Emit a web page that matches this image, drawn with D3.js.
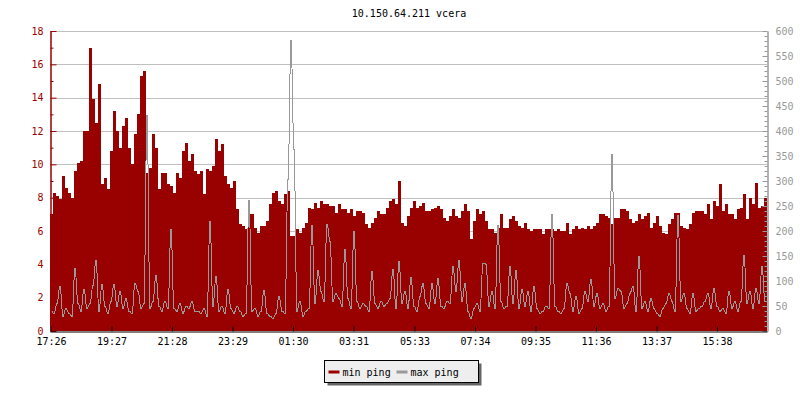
<!DOCTYPE html>
<html>
<head>
<meta charset="utf-8">
<script src="https://cdn.jsdelivr.net/npm/d3@7"></script>
<style>
  body { margin: 0; background: #fff; }
  text { font-family: "DejaVu Sans Mono", monospace; font-size: 10px; }
</style>
</head>
<body>
<svg id="chart" width="800" height="400"></svg>
<script>
// chart data
const title = "10.150.64.211 vcera";
const startTime = "17:24";   // first sample
const stepMinutes = 6;       // one sample every 6 minutes
const seriesNames = ["min ping", "max ping"];

// min ping, left axis (0-18)
const minPing = [
  7.0, 8.3, 8.1, 7.9, 9.3, 8.6, 8.3, 8.0, 9.6, 10.1, 10.2, 12.0, 12.0, 17.0, 13.9, 12.5, 14.8, 8.8, 9.2, 8.5,
  10.8, 13.2, 12.0, 11.0, 12.3, 12.8, 11.0, 10.0, 11.8, 13.0, 15.3, 15.6, 9.5, 9.8, 11.8, 11.0, 8.5, 9.5, 9.5, 8.8,
  8.7, 8.3, 9.5, 9.2, 10.8, 11.3, 10.2, 10.6, 9.6,
  9.4, 9.6, 8.2, 9.7, 9.6, 9.9, 11.5, 10.8, 11.2, 9.3, 8.8, 8.6, 9.0, 7.3, 6.4, 6.3, 6.1, 7.0, 7.0, 6.2,
  5.9, 6.3, 6.3, 6.6, 7.6, 8.3, 8.4, 7.8, 7.6, 8.2, 8.4, 5.7, 5.7, 6.1, 5.9, 6.2, 6.5, 7.4, 7.3, 7.7,
  7.4, 7.8, 7.6, 7.6, 7.5, 7.5, 7.1, 7.6,
  7.3, 7.3, 7.1, 7.3, 6.9, 7.2, 7.2, 7.1, 6.4, 6.2, 6.5, 6.8, 7.2, 7.0, 7.0, 7.4, 7.8, 7.9, 7.6, 9.0,
  6.5, 6.3, 6.9, 7.4, 7.8, 7.4, 7.5, 7.7, 7.2, 7.2, 7.3, 7.4, 7.5, 7.3, 6.8, 6.6, 6.9, 7.3, 6.9, 6.8,
  7.2, 7.6, 7.2, 5.5, 6.6, 7.3, 7.0, 7.2,
  6.6, 6.1, 6.1, 5.9, 6.2, 7.0, 6.2, 6.2, 6.7, 6.9, 6.6, 6.3, 6.2, 6.5, 6.1, 6.0, 6.1, 6.1, 6.1, 5.8,
  6.1, 6.1, 6.1, 6.0, 6.1, 6.0, 6.0, 6.5, 5.8, 6.1, 6.3, 6.1, 6.2, 6.1, 6.3, 6.1, 6.3, 6.5, 7.0, 7.0,
  6.9, 6.8, 6.4, 6.8, 6.8, 7.3, 7.3, 7.2, 6.7,
  6.5, 6.6, 7.0, 6.7, 6.9, 7.1, 6.2, 6.5, 6.9, 6.3, 5.9, 5.8, 6.4, 6.7, 7.1, 7.1, 6.3, 6.2, 6.1, 6.4,
  7.1, 7.2, 7.2, 7.2, 7.0, 7.6, 6.7, 7.8, 7.5, 8.8, 7.2, 7.6, 7.0, 7.0, 6.7, 7.3, 7.4, 8.2, 6.7, 8.0,
  7.6, 8.9, 7.4, 7.5, 8.0
];

// max ping, right axis (0-600)
const maxPing = [
  40, 35, 55, 90, 30, 45, 35, 30, 125, 55, 40, 84, 45, 55, 92, 142, 40, 94, 50, 35,
  60, 94, 50, 80, 45, 65, 40, 35, 96, 80, 45, 55, 432, 45, 60, 112, 50, 40, 60, 45,
  204, 45, 40, 55, 35, 50, 45, 60, 40,
  40, 35, 45, 30, 219, 50, 109, 40, 50, 35, 84, 45, 35, 50, 40, 30, 35, 261, 40, 45,
  30, 40, 82, 35, 30, 25, 35, 70, 40, 35, 304, 581, 363, 40, 60, 30, 40, 45, 211, 55,
  121, 80, 60, 214, 179, 60, 75, 65,
  50, 163, 65, 45, 199, 60, 45, 55, 50, 40, 119, 55, 45, 60, 50, 55, 65, 124, 45, 139,
  55, 80, 45, 107, 50, 40, 70, 95, 55, 45, 95, 55, 105, 50, 45, 60, 55, 129, 80, 141,
  60, 95, 40, 25, 45, 55, 40, 136,
  134, 50, 80, 45, 212, 60, 45, 50, 129, 55, 121, 45, 84, 50, 80, 40, 89, 45, 35, 40,
  50, 45, 233, 50, 40, 35, 45, 96, 75, 40, 70, 35, 45, 80, 60, 104, 50, 75, 45, 55,
  40, 50, 353, 65, 85, 80, 45, 55, 75,
  90, 40, 150, 45, 60, 40, 65, 45, 35, 30, 45, 55, 75, 60, 40, 231, 60, 75, 45, 35,
  75, 40, 45, 50, 60, 75, 45, 85, 50, 40, 45, 35, 80, 45, 60, 40, 60, 152, 55, 80,
  45, 85, 55, 129, 60
];

const timeTicks = ["17:26", "19:27", "21:28", "23:29", "01:30", "03:31",
                   "05:33", "07:34", "09:35", "11:36", "13:37", "15:38"];
const leftMax = 18;
const rightMax = 600;

const red = "#990000";
const gray = "#999999";

const svg = d3.select("#chart");
const plotLeft = 50, plotRight = 767, plotTop = 31, plotBottom = 331;

// times: day 1 from 17:24, anything earlier in the clock is the next day
const parseHM = d3.timeParse("%Y-%m-%d %H:%M");
function toDate(hm) {
  const day = +hm.slice(0, 2) < 17 ? "2000-01-02" : "2000-01-01";
  return parseHM(day + " " + hm);
}
const t0 = toDate(startTime);
const sampleTime = (i) => d3.timeMinute.offset(t0, i * stepMinutes);
const tEnd = sampleTime(minPing.length);

const x = d3.scaleTime().domain([t0, tEnd]).range([plotLeft, plotRight]);
const yL = d3.scaleLinear().domain([0, leftMax]).range([plotBottom, plotTop]);
const yR = d3.scaleLinear().domain([0, rightMax]).range([plotBottom, plotTop]);

// grid
svg.append("g")
  .selectAll("line")
  .data(d3.range(2, leftMax + 1, 2))
  .enter().append("line")
  .attr("x1", plotLeft).attr("x2", plotRight)
  .attr("y1", d => Math.round(yL(d)) + 0.5)
  .attr("y2", d => Math.round(yL(d)) + 0.5)
  .attr("stroke", "#c0c0c0");

// min ping area
const minData = minPing.map((v, i) => ({ t: sampleTime(i), v }));
minData.push({ t: tEnd, v: minPing[minPing.length - 1] });
const area = d3.area()
  .x(d => x(d.t))
  .y0(plotBottom)
  .y1(d => yL(d.v))
  .curve(d3.curveStepAfter);
svg.append("path")
  .attr("d", area(minData))
  .attr("fill", red)
  .attr("shape-rendering", "crispEdges");

// max ping line: each sample is held for one pixel (2 min), then the line moves on
const maxData = maxPing.flatMap((v, i) => [
  { t: sampleTime(i), v },
  { t: d3.timeMinute.offset(sampleTime(i), 2), v }
]);
const line = d3.line()
  .x(d => x(d.t) + 0.5)
  .y(d => yR(d.v));
svg.append("path")
  .attr("d", line(maxData))
  .attr("fill", "none")
  .attr("stroke", gray)
  .attr("stroke-width", 1)
  .attr("shape-rendering", "crispEdges");

// axes
function styleAxis(g, color) {
  g.select(".domain").attr("stroke", color);
  g.selectAll(".tick line").attr("stroke", color);
  g.selectAll(".tick text").attr("fill", color).style("font-family", "DejaVu Sans Mono").style("font-size", "10px");
}
svg.append("g")
  .attr("transform", `translate(${plotLeft + 0.5},0)`)
  .call(d3.axisLeft(yL).tickValues(d3.range(1, leftMax, 2)).tickSize(-3).tickFormat("").tickSizeOuter(0))
  .call(g => styleAxis(g, red));
svg.append("g")
  .attr("transform", `translate(${plotLeft + 0.5},0)`)
  .call(d3.axisLeft(yL).tickValues(d3.range(0, leftMax + 1, 2)).tickSize(-6).tickPadding(7).tickSizeOuter(0))
  .call(g => styleAxis(g, red));

svg.append("g")
  .attr("transform", `translate(${plotRight + 0.5},0)`)
  .call(d3.axisRight(yR).tickValues(d3.range(10, rightMax, 10)).tickSize(-3).tickFormat("").tickSizeOuter(0))
  .call(g => styleAxis(g, gray));
svg.append("g")
  .attr("transform", `translate(${plotRight + 0.5},0)`)
  .call(d3.axisRight(yR).tickValues(d3.range(0, rightMax + 1, 50)).tickSize(-5).tickPadding(8).tickSizeOuter(0))
  .call(g => styleAxis(g, gray));

svg.append("g")
  .attr("transform", `translate(0,${plotBottom + 0.5})`)
  .call(d3.axisBottom(x).tickValues(timeTicks.map(toDate)).tickSize(-5).tickPadding(6)
    .tickFormat(d3.timeFormat("%H:%M")).tickSizeOuter(0))
  .call(g => styleAxis(g, "#000"));

// title
svg.append("text")
  .attr("x", 409).attr("y", 17)
  .attr("text-anchor", "middle")
  .attr("fill", "#000")
  .text(title);

// legend
const legend = svg.append("g").attr("transform", "translate(324.5,360.5)");
legend.append("rect").attr("x", 3).attr("y", 3).attr("width", 154).attr("height", 22).attr("fill", "#666");
legend.append("rect").attr("width", 154).attr("height", 22).attr("fill", "#eeeeee").attr("stroke", "#000");
const items = legend.selectAll(".item")
  .data(seriesNames)
  .enter().append("g")
  .attr("transform", (d, i) => `translate(${4 + i * 68},0)`);
items.append("rect")
  .attr("x", 0).attr("y", 10).attr("width", 11).attr("height", 3)
  .attr("fill", (d, i) => i === 0 ? red : gray);
items.append("text")
  .attr("x", 14).attr("y", 15)
  .attr("fill", "#000")
  .text(d => d);
</script>
</body>
</html>
